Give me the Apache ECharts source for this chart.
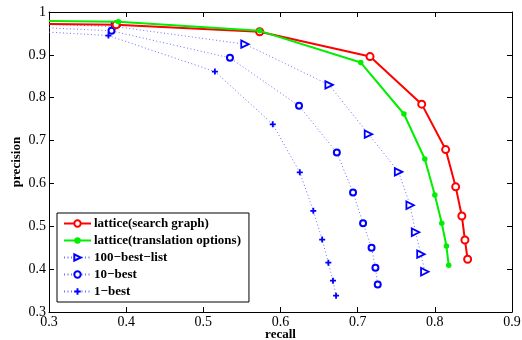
<!DOCTYPE html>
<html>
<head>
<meta charset="utf-8">
<script src="https://cdn.jsdelivr.net/npm/echarts@6/dist/echarts.min.js"></script>
<style>
  html, body { margin: 0; padding: 0; background: #fff; }
  #chart { width: 522px; height: 340px; }
</style>
</head>
<body>
<div id="chart"></div>
<script>
// values; first point of each curve sits on the left edge (no marker)
const names = ['lattice(search graph)', 'lattice(translation options)', '100\u2212best\u2212list', '10\u2212best', '1\u2212best'];

const searchRecall = [0.3, 0.387, 0.573, 0.716, 0.783, 0.814, 0.827, 0.835, 0.839, 0.8425];
const searchPrec   = [0.972, 0.970, 0.954, 0.896, 0.785, 0.679, 0.592, 0.524, 0.468, 0.423];

const transRecall = [0.3, 0.390, 0.573, 0.704, 0.760, 0.787, 0.800, 0.809, 0.815, 0.818];
const transPrec   = [0.979, 0.977, 0.956, 0.882, 0.762, 0.657, 0.573, 0.507, 0.454, 0.409];

const best100Recall = [0.3, 0.386, 0.554, 0.663, 0.714, 0.753, 0.768, 0.775, 0.782, 0.787];
const best100Prec   = [0.971, 0.966, 0.925, 0.830, 0.715, 0.627, 0.549, 0.486, 0.435, 0.394];

const best10Recall = [0.3, 0.381, 0.5345, 0.624, 0.673, 0.694, 0.707, 0.718, 0.723, 0.726];
const best10Prec   = [0.963, 0.956, 0.893, 0.781, 0.672, 0.579, 0.507, 0.450, 0.403, 0.364];

const best1Recall = [0.3, 0.377, 0.515, 0.590, 0.625, 0.6425, 0.654, 0.662, 0.668, 0.672];
const best1Prec   = [0.953, 0.945, 0.861, 0.738, 0.626, 0.536, 0.469, 0.415, 0.373, 0.338];

const xTicks = [0.3, 0.4, 0.5, 0.6, 0.7, 0.8, 0.9];
const yTicks = [0.3, 0.4, 0.5, 0.6, 0.7, 0.8, 0.9, 1];

function pts(xs, ys) {
  return xs.map((x, i) => i === 0 ? { value: [x, ys[i]], symbol: 'none' } : [x, ys[i]]);
}

const font = 'Liberation Serif';
const blueLine = { color: '#6e6eff', width: 1, type: [1, 2.5] };
const plus = 'path://M3.5,0H6.5V3.5H10V6.5H6.5V10H3.5V6.5H0V3.5H3.5Z';

const chart = echarts.init(document.getElementById('chart'));

const axisCommon = {
  type: 'value',
  axisLine: { show: true, lineStyle: { color: '#000', width: 1 } },
  axisTick: { show: true, inside: true, length: 5, lineStyle: { color: '#000' } },
  splitLine: { show: false },
  interval: 0.1
};

chart.setOption({
  animation: false,
  backgroundColor: '#fff',
  textStyle: { fontFamily: font },
  grid: { left: 49, right: 10, top: 12, bottom: 28, outerBoundsMode: 'none', containLabel: false },
  legend: {
    orient: 'vertical',
    left: 57,
    top: 213,
    padding: [4, 8, 4, 6],
    itemGap: 4,
    itemWidth: 27,
    itemHeight: 8,
    borderColor: '#000',
    borderWidth: 1,
    backgroundColor: '#fff',
    data: names,
    textStyle: { fontFamily: font, fontWeight: 'bold', fontSize: 13, color: '#000', padding: [0, 0, 0, -2] }
  },
  xAxis: [
    Object.assign({}, axisCommon, {
      min: 0.3, max: 0.9,
      name: 'recall', nameLocation: 'middle', nameGap: 16, nameMoveOverlap: false,
      nameTextStyle: { fontFamily: font, fontWeight: 'bold', fontSize: 13, color: '#000' },
      axisLabel: { fontFamily: font, fontSize: 14, color: '#000', margin: 3,
        formatter: v => xTicks.includes(+v.toFixed(1)) ? v.toFixed(1) : '' }
    }),
    Object.assign({}, axisCommon, { min: 0.3, max: 0.9, position: 'top', axisLabel: { show: false } })
  ],
  yAxis: [
    Object.assign({}, axisCommon, {
      min: 0.3, max: 1,
      name: 'precision', nameLocation: 'middle', nameGap: 26, nameMoveOverlap: false,
      nameTextStyle: { fontFamily: font, fontWeight: 'bold', fontSize: 13, color: '#000' },
      axisLabel: { fontFamily: font, fontSize: 14, color: '#000', margin: 3,
        formatter: v => { const r = +v.toFixed(1); return yTicks.includes(r) ? (r === 1 ? '1' : r.toFixed(1)) : ''; } }
    }),
    Object.assign({}, axisCommon, { min: 0.3, max: 1, position: 'right', axisLabel: { show: false } })
  ],
  series: [
    {
      name: names[0], type: 'line', data: pts(searchRecall, searchPrec), z: 3,
      symbol: 'emptyCircle', symbolSize: 7,
      lineStyle: { color: '#ff0000', width: 2 },
      itemStyle: { color: '#ff0000', borderWidth: 1.3 }
    },
    {
      name: names[1], type: 'line', data: pts(transRecall, transPrec), z: 4,
      symbol: 'circle', symbolSize: 5.5,
      lineStyle: { color: '#00ee00', width: 2 },
      itemStyle: { color: '#00ee00' }
    },
    {
      name: names[2], type: 'line', data: pts(best100Recall, best100Prec), z: 2,
      symbol: 'triangle', symbolSize: 7.5, symbolRotate: -90,
      lineStyle: blueLine,
      itemStyle: { color: '#fff', borderColor: '#0000ff', borderWidth: 1.8 }
    },
    {
      name: names[3], type: 'line', data: pts(best10Recall, best10Prec), z: 2,
      symbol: 'emptyCircle', symbolSize: 6,
      lineStyle: blueLine,
      itemStyle: { color: '#0000ff', borderWidth: 1.8 }
    },
    {
      name: names[4], type: 'line', data: pts(best1Recall, best1Prec), z: 2,
      symbol: plus, symbolSize: 6,
      lineStyle: blueLine,
      itemStyle: { color: '#0000ff' }
    }
  ]
});
</script>
</body>
</html>
